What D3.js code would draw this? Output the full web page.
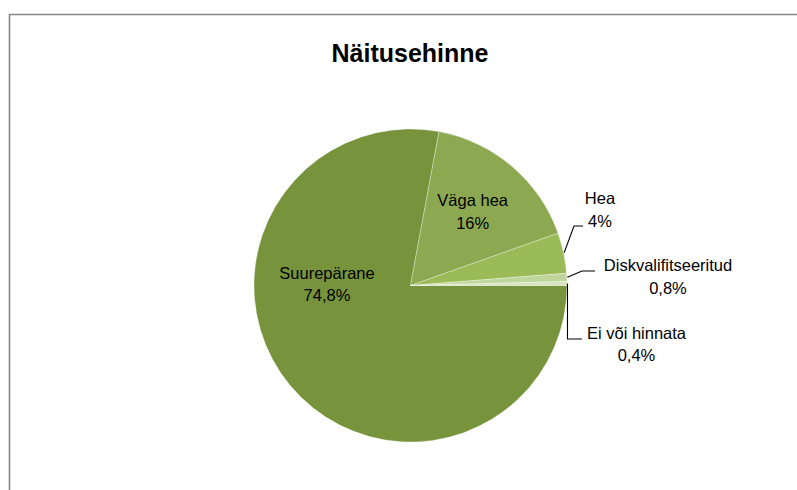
<!DOCTYPE html>
<html><head><meta charset="utf-8">
<script src="https://cdn.jsdelivr.net/npm/d3@7"></script>
<style>body{margin:0;background:#fff}svg{display:block}text{font-family:"Liberation Sans",Arial,sans-serif}</style>
</head><body>
<svg id="c" width="797" height="490"></svg>
<script>
const categories = ["Suurepärane", "Väga hea", "Hea", "Diskvalifitseeritud", "Ei või hinnata"];
const values = [74.8, 16, 4, 0.8, 0.4];
const valueLabels = ["74,8%", "16%", "4%", "0,8%", "0,4%"];
const colors = ["#77933C", "#8CA850", "#9BBB59", "#C0D59C", "#D7E4BD"];
const title = "Näitusehinne";

const svg = d3.select("#c");
const W = 797, H = 490;
const cx = 410.5, cy = 285.5, R = 156.5;

// frame (top + left edges visible)
svg.append("path").attr("d", `M9.5,${H} L9.5,14.5 L${W},14.5`)
  .attr("fill", "none").attr("stroke", "#878787").attr("stroke-width", 1.6);

svg.append("text").attr("x", 410).attr("y", 62).attr("text-anchor", "middle")
  .attr("font-size", 25).attr("font-weight", "bold").attr("fill", "#000").text(title);

const data = categories.map((c, i) => ({cat: c, v: values[i], lab: valueLabels[i], col: colors[i]}));
const pie = d3.pie().value(d => d.v).sort(null).startAngle(Math.PI / 2).endAngle(Math.PI / 2 + 2 * Math.PI);
const arcs = pie(data);
const arc = d3.arc().innerRadius(0).outerRadius(R);

const g = svg.append("g").attr("transform", `translate(${cx},${cy})`);
g.selectAll("path").data(arcs).join("path")
  .attr("d", arc).attr("fill", d => d.data.col)
  .attr("stroke", "#ffffff").attr("stroke-opacity", 0.5).attr("stroke-width", 0.6);

// label layout: [dx, dy] of label block centre relative to pie centre, and leader elbows
const mid = a => (a.startAngle + a.endAngle) / 2;
const pt = (ang, r) => [Math.sin(ang) * r, -Math.cos(ang) * r];
const layout = [
  {pos: [-83.5, -0.5]},
  {pos: null, rr: 0.612},
  {pos: [189.5, -75], leader: [[163.5, -59.5], [172.5, -59.5]]},
  {pos: [257.5, -8], leader: [[171.5, -14.5], [184.5, -14.5]]},
  {pos: [226, 59.5], leader: [[157.5, 53.5], [171.5, 53.5]], vert: true}
];

arcs.forEach((a, i) => {
  const L = layout[i];
  let p = L.pos ? L.pos : pt(mid(a), R * L.rr);
  const t = g.append("text").attr("text-anchor", "middle").attr("font-size", 16.5).attr("fill", "#000");
  t.append("tspan").attr("x", p[0]).attr("y", p[1] - 6.5).text(a.data.cat);
  t.append("tspan").attr("x", p[0]).attr("y", p[1] + 16).text(a.data.lab);
  if (L.leader) {
    const s = pt(mid(a), R + 0.5);
    let pts = [s];
    if (L.vert) pts = [s, [s[0], L.leader[0][1]], L.leader[1]];
    else pts = [s, L.leader[0], L.leader[1]];
    g.append("path").attr("d", d3.line()(pts)).attr("fill", "none")
      .attr("stroke", "#000").attr("stroke-width", 1.1);
  }
});
</script>
</body></html>
